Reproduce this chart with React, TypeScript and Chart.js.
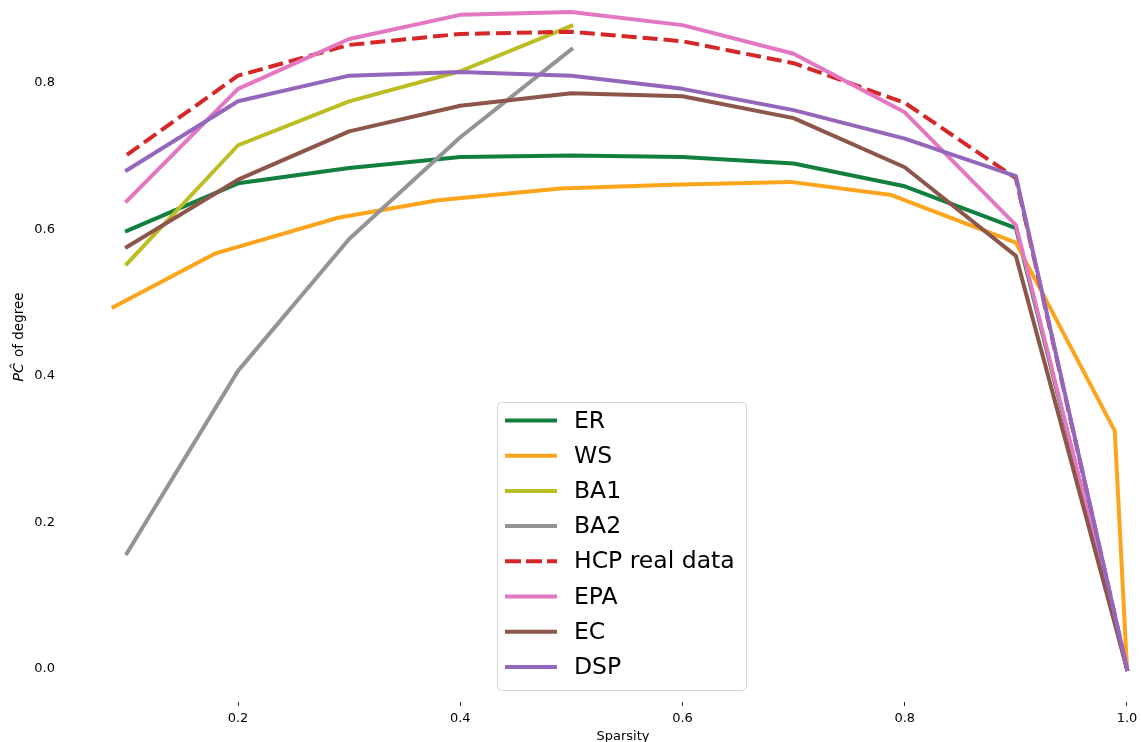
import React, { useEffect, useRef } from 'react';
import { Chart, registerables } from 'chart.js';

Chart.register(...registerables);

// ---- Data ----
const sparsity = [0.1, 0.2, 0.3, 0.4, 0.5, 0.6, 0.7, 0.8, 0.9, 1.0];
const wsSparsity = [0.088, 0.179, 0.29, 0.38, 0.49, 0.59, 0.697, 0.788, 0.9, 0.989, 1.0];
const baSparsity = [0.1, 0.2, 0.3, 0.4, 0.5];

const erValues = [0.598, 0.663, 0.684, 0.699, 0.701, 0.699, 0.69, 0.659, 0.602, 0.0];
const wsValues = [0.494, 0.567, 0.616, 0.64, 0.656, 0.661, 0.665, 0.647, 0.582, 0.325, 0.0];
const ba1Values = [0.553, 0.715, 0.775, 0.816, 0.878];
const ba2Values = [0.158, 0.407, 0.587, 0.726, 0.846];
const hcpValues = [0.702, 0.81, 0.852, 0.867, 0.87, 0.857, 0.827, 0.773, 0.67, 0.0];
const epaValues = [0.639, 0.792, 0.86, 0.893, 0.897, 0.879, 0.84, 0.76, 0.606, 0.0];
const ecValues = [0.576, 0.668, 0.734, 0.769, 0.786, 0.782, 0.752, 0.685, 0.564, 0.0];
const dspValues = [0.681, 0.775, 0.81, 0.815, 0.81, 0.792, 0.763, 0.724, 0.673, 0.0];

const seriesNames = ['ER', 'WS', 'BA1', 'BA2', 'HCP real data', 'EPA', 'EC', 'DSP'];
const xTicks = [0.2, 0.4, 0.6, 0.8, 1.0];
const yTicks = [0.0, 0.2, 0.4, 0.6, 0.8];
const xTitle = 'Sparsity';
const yTitleMath = 'PĈ';
const yTitleRest = ' of degree';

const FONT = '"DejaVu Sans", "Liberation Sans", sans-serif';

export default function App() {
  const ref = useRef<HTMLCanvasElement | null>(null);

  useEffect(() => {
    document.body.style.margin = '0';
    const canvas = ref.current;
    if (!canvas) return;

    const series = [
      { xs: sparsity, ys: erValues, color: '#117f3d', dash: null as number[] | null },
      { xs: wsSparsity, ys: wsValues, color: '#fca41c', dash: null },
      { xs: baSparsity, ys: ba1Values, color: '#bcbd22', dash: null },
      { xs: baSparsity, ys: ba2Values, color: '#949494', dash: null },
      { xs: sparsity, ys: hcpValues, color: '#d62728', dash: [15, 6] },
      { xs: sparsity, ys: epaValues, color: '#e377c2', dash: null },
      { xs: sparsity, ys: ecValues, color: '#8c564b', dash: null },
      { xs: sparsity, ys: dspValues, color: '#9467bd', dash: null },
    ];

    const datasets = series.map((s, i) => ({
      label: seriesNames[i],
      data: s.xs.map((x, j) => ({ x, y: s.ys[j] })),
      borderColor: s.color,
      backgroundColor: s.color,
      borderWidth: 4,
      borderDash: s.dash || [],
      borderCapStyle: s.dash ? 'butt' : 'square',
      borderJoinStyle: 'round',
      pointRadius: 0,
      pointHoverRadius: 0,
      tension: 0,
      fill: false,
      order: series.length - 1 - i,
    }));

    const legendPlugin = {
      id: 'customLegend',
      afterDraw(chart: any) {
        const ctx = chart.ctx as CanvasRenderingContext2D;
        ctx.save();
        const bx = 497.5, by = 402.5, bw = 249, bh = 288, r = 4;
        ctx.beginPath();
        ctx.moveTo(bx + r, by);
        ctx.lineTo(bx + bw - r, by);
        ctx.arcTo(bx + bw, by, bx + bw, by + r, r);
        ctx.lineTo(bx + bw, by + bh - r);
        ctx.arcTo(bx + bw, by + bh, bx + bw - r, by + bh, r);
        ctx.lineTo(bx + r, by + bh);
        ctx.arcTo(bx, by + bh, bx, by + bh - r, r);
        ctx.lineTo(bx, by + r);
        ctx.arcTo(bx, by, bx + r, by, r);
        ctx.closePath();
        ctx.fillStyle = 'rgba(255,255,255,0.85)';
        ctx.fill();
        ctx.strokeStyle = '#d6d6d6';
        ctx.lineWidth = 1;
        ctx.stroke();

        series.forEach((s, i) => {
          const y = 420.5 + i * 35.2;
          ctx.beginPath();
          ctx.setLineDash(s.dash ? [16, 5] : []);
          ctx.lineCap = 'butt';
          ctx.strokeStyle = s.color;
          ctx.lineWidth = 4;
          ctx.moveTo(505, y);
          ctx.lineTo(557, y);
          ctx.stroke();
          ctx.setLineDash([]);
          ctx.fillStyle = '#000';
          ctx.font = `23.5px ${FONT}`;
          ctx.textBaseline = 'middle';
          ctx.textAlign = 'left';
          ctx.fillText(seriesNames[i], 574, y + 1);
        });
        ctx.restore();
      },
    };

    const yTitlePlugin = {
      id: 'yTitle',
      afterDraw(chart: any) {
        const ctx = chart.ctx as CanvasRenderingContext2D;
        ctx.save();
        ctx.translate(19, 337);
        ctx.rotate(-Math.PI / 2);
        ctx.fillStyle = '#000';
        ctx.textBaseline = 'middle';
        ctx.textAlign = 'left';
        const mathFont = `italic 14px ${FONT}`;
        const restFont = `13.5px ${FONT}`;
        ctx.font = mathFont;
        const w1 = ctx.measureText(yTitleMath).width + 2;
        ctx.font = restFont;
        const w2 = ctx.measureText(yTitleRest).width;
        const start = -(w1 + w2) / 2;
        ctx.font = mathFont;
        ctx.fillText(yTitleMath, start, 0);
        ctx.font = restFont;
        ctx.fillText(yTitleRest, start + w1, 0);
        ctx.restore();
      },
    };

    const chart = new Chart(canvas, {
      type: 'line',
      data: { datasets: datasets as any },
      options: {
        responsive: false,
        maintainAspectRatio: false,
        animation: false,
        layout: { padding: 0 },
        plugins: {
          legend: { display: false },
          tooltip: { enabled: false },
        },
        scales: {
          x: {
            type: 'linear',
            min: 0.0803,
            max: 1.0126,
            afterBuildTicks: (s: any) => {
              s.ticks = xTicks.map((v) => ({ value: v }));
            },
            afterFit: (s: any) => {
              s.height = 40;
              s.paddingLeft = 0;
              s.paddingRight = 0;
            },
            ticks: {
              callback: (v: any) => Number(v).toFixed(1),
              font: { family: FONT, size: 13 },
              color: '#000',
              padding: 5,
              maxRotation: 0,
              autoSkip: false,
            },
            grid: {
              display: true,
              drawOnChartArea: false,
              drawTicks: true,
              tickLength: 4,
              color: '#222',
              lineWidth: 1,
            },
            border: { display: false },
            title: {
              display: true,
              text: xTitle,
              font: { family: FONT, size: 13 },
              color: '#000',
              padding: { top: 0, bottom: -2 },
            },
          },
          y: {
            type: 'linear',
            min: -0.04505,
            max: 0.9133,
            afterBuildTicks: (s: any) => {
              s.ticks = yTicks.map((v) => ({ value: v }));
            },
            afterFit: (s: any) => {
              s.width = 105;
              s.paddingTop = 0;
              s.paddingBottom = 0;
            },
            ticks: {
              callback: (v: any) => Number(v).toFixed(1),
              font: { family: FONT, size: 13 },
              color: '#000',
              padding: 50,
              autoSkip: false,
            },
            grid: { display: false, drawTicks: false },
            border: { display: false },
            title: { display: false },
          },
        },
      },
      plugins: [legendPlugin, yTitlePlugin],
    } as any);

    return () => chart.destroy();
  }, []);

  return (
    <div style={{ position: 'absolute', left: 0, top: 0, width: 1141, height: 742 }}>
      <canvas ref={ref} width={1141} height={742} style={{ display: 'block' }} />
    </div>
  );
}
